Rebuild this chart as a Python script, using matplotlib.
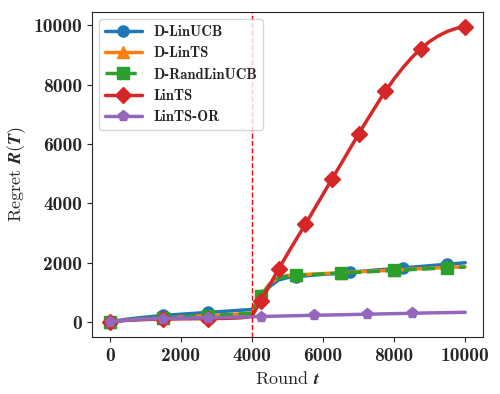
import matplotlib
matplotlib.use("Agg")
import matplotlib.pyplot as plt
from matplotlib.font_manager import FontProperties
import seaborn as sns

sns.set_style("ticks")
plt.rcParams["mathtext.fontset"] = "cm"
plt.rcParams["axes.unicode_minus"] = False

rounds = list(range(0, 10001, 250))

d_linucb = [0, 60, 100, 135, 165, 195, 225, 245, 265, 285, 305, 325, 345, 365, 385, 405, 425,
            850, 1200, 1420, 1500, 1535, 1560, 1585, 1610, 1630, 1655, 1680, 1705, 1730, 1755,
            1780, 1800, 1825, 1850, 1875, 1900, 1925, 1950, 1975, 2000]
d_lints = [0, 40, 70, 90, 110, 125, 140, 155, 170, 185, 200, 215, 230, 245, 260, 280, 300,
           900, 1300, 1500, 1570, 1590, 1605, 1620, 1635, 1650, 1665, 1680, 1695, 1710, 1725,
           1740, 1755, 1770, 1785, 1800, 1815, 1830, 1845, 1855, 1865]
d_randlinucb = [0, 40, 70, 90, 110, 125, 140, 155, 170, 185, 200, 215, 230, 245, 260, 280, 300,
                870, 1270, 1480, 1555, 1575, 1590, 1605, 1620, 1635, 1650, 1665, 1680, 1695, 1710,
                1725, 1740, 1755, 1770, 1785, 1800, 1815, 1830, 1842, 1855]
lints = [0, 40, 60, 75, 85, 95, 100, 105, 110, 112, 115, 118, 120, 125, 135, 150, 200,
         720, 1250, 1790, 2300, 2800, 3290, 3800, 4310, 4820, 5320, 5830, 6340, 6830, 7310,
         7780, 8200, 8580, 8920, 9220, 9460, 9650, 9800, 9900, 9960]
lints_or = [0, 40, 65, 85, 100, 110, 120, 125, 130, 135, 140, 145, 150, 157, 165, 172, 180,
            188, 195, 203, 210, 216, 222, 229, 235, 241, 247, 254, 260, 266, 272, 279, 285,
            291, 297, 304, 310, 315, 320, 325, 330]

labels = ["D-LinUCB", "D-LinTS", "D-RandLinUCB", "LinTS", "LinTS-OR"]
series = [d_linucb, d_lints, d_randlinucb, lints, lints_or]
markers = ["o", "^", "s", "D", "p"]
styles = ["-", "-", "--", "-", "-"]
change_point = 4000

bold = FontProperties(family="cmb10", size=14)

fig = plt.figure(figsize=(5, 3.94), dpi=100)
ax = fig.add_axes([0.184, 0.145, 0.782, 0.825])

for y, lab, m, ls in zip(series, labels, markers, styles):
    ax.plot(rounds, y, ls, marker=m, markevery=0.1, lw=2.5, ms=8, label=lab)

ax.axvline(change_point, color="red", ls="--", lw=1)

ax.set_xticks([0, 2000, 4000, 6000, 8000, 10000])
ax.set_yticks([0, 2000, 4000, 6000, 8000, 10000])
for t in ax.get_xticklabels() + ax.get_yticklabels():
    t.set_fontproperties(bold)

ax.set_xlabel(r"Round $\boldsymbol{t}$", fontsize=13, family="cmr10", color=".15")
ax.set_ylabel(r"Regret $\boldsymbol{R(T)}$", fontsize=13, family="cmr10", color=".15")

ax.legend(loc="upper left", prop=FontProperties(family="cmb10", size=10.5), handlelength=2.5)

fig.savefig("out.png", dpi=100)
